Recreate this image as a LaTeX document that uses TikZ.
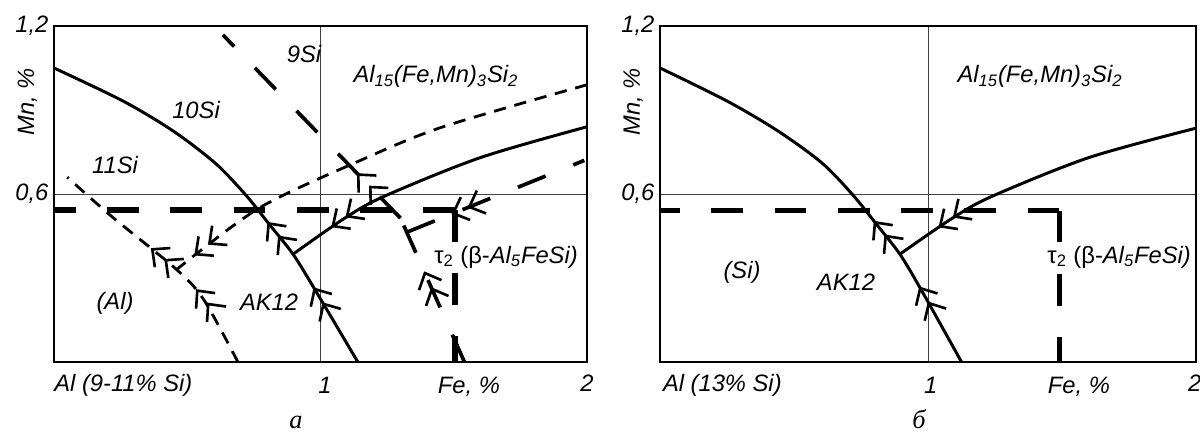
\documentclass[tikz,border=0pt]{standalone}
\usepackage{fontspec}
\setmainfont{Liberation Sans}
\newfontfamily\capfont{Liberation Serif}
\usetikzlibrary{arrows.meta,decorations.markings}

\tikzset{
  dbl/.tip={Straight Barb[length=7.5pt,width=14pt,line width=1.5pt,sep=0.5pt]
            Straight Barb[length=7.5pt,width=14pt,line width=1.5pt]},
  frame/.style={line width=1.1pt},
  grid line/.style={line width=0.5pt, black!75},
  liquidus/.style={line width=1.7pt},
  alloy/.style={line width=3pt, dash pattern=on 18pt off 18pt},
  longdash/.style={line width=2.1pt, dash pattern=on 17pt off 17pt},
  finedash/.style={line width=1.6pt, dash pattern=on 7pt off 5pt},
  flow at/.style={postaction={decorate, decoration={markings,
      mark=at position #1 with {\arrow{dbl}}}}},
  flow back at/.style={postaction={decorate, decoration={markings,
      mark=at position #1 with {\arrowreversed{dbl}}}}},
  caption/.style={font=\capfont\itshape\fontsize{15}{17}\selectfont,
      anchor=base, inner sep=0}
}

\begin{document}
\begin{tikzpicture}[font=\fontsize{13.5}{15}\selectfont\itshape]
\useasboundingbox (0,0) rectangle (24,8.64);

% Panel a
\begin{scope}[shift={(1.08cm,1.40cm)}, x=5.33cm, y=5.6cm]
  % Frame and grid
  \draw[grid line] (1,0) -- (1,1.2);
  \draw[grid line] (0,0.6) -- (2,0.6);
  \draw[frame] (0,0) rectangle (2,1.2);
  % Alloy limits
  \coordinate (Ca) at (1.505,0.543);
  \draw[alloy] (Ca) -- (0,0.543);
  \draw[alloy] (Ca) -- (1.505,0);
  % Fine dashed lines
  \coordinate (Qa) at (0.46,0.33);
  \draw[finedash, flow at=0.33, flow at=0.57] plot[smooth] coordinates
    {(0.69,0) (0.563,0.221) (Qa) (0.21,0.525) (0.05,0.66)};
  \draw[finedash, flow at=0.95] plot[smooth] coordinates
    {(2.0,0.99) (1.46,0.84) (1.15,0.72) (0.77,0.55) (Qa)};
  % Long dashed lines
  \coordinate (Pa) at (1.30,0.514);
  \coordinate (Pb) at (1.325,0.464);
  \draw[longdash, flow at=0.245] (Pa) -- (0.634,1.168);
  \draw[longdash, flow at=0.63] (1.54,0) -- (Pa);
  \draw[longdash, flow back at=0.25] (Pb) -- (1.99,0.72);
  % Solid curves
  \coordinate (Ja) at (0.897,0.385);
  \draw[liquidus, flow at=0.20, flow at=0.385] plot[smooth] coordinates
    {(1.14,0) (0.98,0.257) (Ja) (0.81,0.489) (0.72,0.596) (0.604,0.711)
     (0.447,0.825) (0.259,0.932) (0,1.05)};
  \draw[liquidus, flow at=0.855] plot[smooth] coordinates
    {(2.0,0.84) (1.6,0.73) (1.235,0.59) (1.085,0.51) (Ja)};
  % Axis labels
  \node[anchor=east, inner sep=0] (a12) at (-0.02,1.2) {1,2};
  \node[anchor=east, inner sep=0] (a06) at (-0.02,0.6) {0,6};
  \node[rotate=90] (amn) at (-0.10,0.93) {Mn, \%};
  \node[anchor=west, inner sep=0] (aal) at (0,-0.082) {Al (9-11\% Si)};
  \node (ax1) at (1.017,-0.082) {1};
  \node (afe) at (1.557,-0.088) {Fe, \%};
  \node (ax2) at (2.0,-0.076) {2};
  % Field labels
  \node (a9) at (0.938,1.10) {9Si};
  \node (a10) at (0.533,0.90) {10Si};
  \node (a11) at (0.229,0.704) {11Si};
  \node (aph) at (1.433,1.02) {Al\textsubscript{15}(Fe,Mn)\textsubscript{3}Si\textsubscript{2}};
  \node (aal2) at (0.229,0.21) {(Al)};
  \node (aak) at (0.807,0.214) {AK12};
  \node (atau) at (1.696,0.375) {{\upshape τ\textsubscript{2} (β-}Al\textsubscript{5}FeSi)};
  \node[caption] (acap) at (0.908,-0.236) {а};
\end{scope}

% Panel b
\begin{scope}[shift={(13.2cm,1.40cm)}, x=5.36cm, y=5.6cm]
  % Frame and grid
  \draw[grid line] (1,0) -- (1,1.2);
  \draw[grid line] (0,0.6) -- (2,0.6);
  \draw[frame] (0,0) rectangle (2,1.2);
  % Alloy limits
  \coordinate (Cb) at (1.49,0.54);
  \draw[alloy] (Cb) -- (0,0.54);
  \draw[alloy] (Cb) -- (1.49,0);
  % Solid curves
  \coordinate (Jb) at (0.895,0.385);
  \draw[liquidus, flow at=0.20, flow at=0.385] plot[smooth] coordinates
    {(1.125,0) (0.975,0.257) (Jb) (0.81,0.489) (0.72,0.596) (0.604,0.711)
     (0.44,0.825) (0.25,0.932) (0,1.05)};
  \draw[liquidus, flow at=0.855] plot[smooth] coordinates
    {(2.0,0.835) (1.6,0.73) (1.235,0.59) (1.085,0.51) (Jb)};
  % Axis labels
  \node[anchor=east, inner sep=0] (b12) at (-0.02,1.2) {1,2};
  \node[anchor=east, inner sep=0] (b06) at (-0.02,0.6) {0,6};
  \node[rotate=90] (bmn) at (-0.10,0.93) {Mn, \%};
  \node[anchor=west, inner sep=0] (bal) at (0.01,-0.082) {Al (13\% Si)};
  \node (bx1) at (1.01,-0.082) {1};
  \node (bfe) at (1.563,-0.088) {Fe, \%};
  \node (bx2) at (1.995,-0.076) {2};
  % Field labels
  \node (bph) at (1.418,1.02) {Al\textsubscript{15}(Fe,Mn)\textsubscript{3}Si\textsubscript{2}};
  \node (bsi) at (0.306,0.321) {(Si)};
  \node (bak) at (0.694,0.286) {AK12};
  \node (btau) at (1.713,0.375) {{\upshape τ\textsubscript{2} (β-}Al\textsubscript{5}FeSi)};
  \node[caption] (bcap) at (0.966,-0.236) {б};
\end{scope}
\end{tikzpicture}
\end{document}
